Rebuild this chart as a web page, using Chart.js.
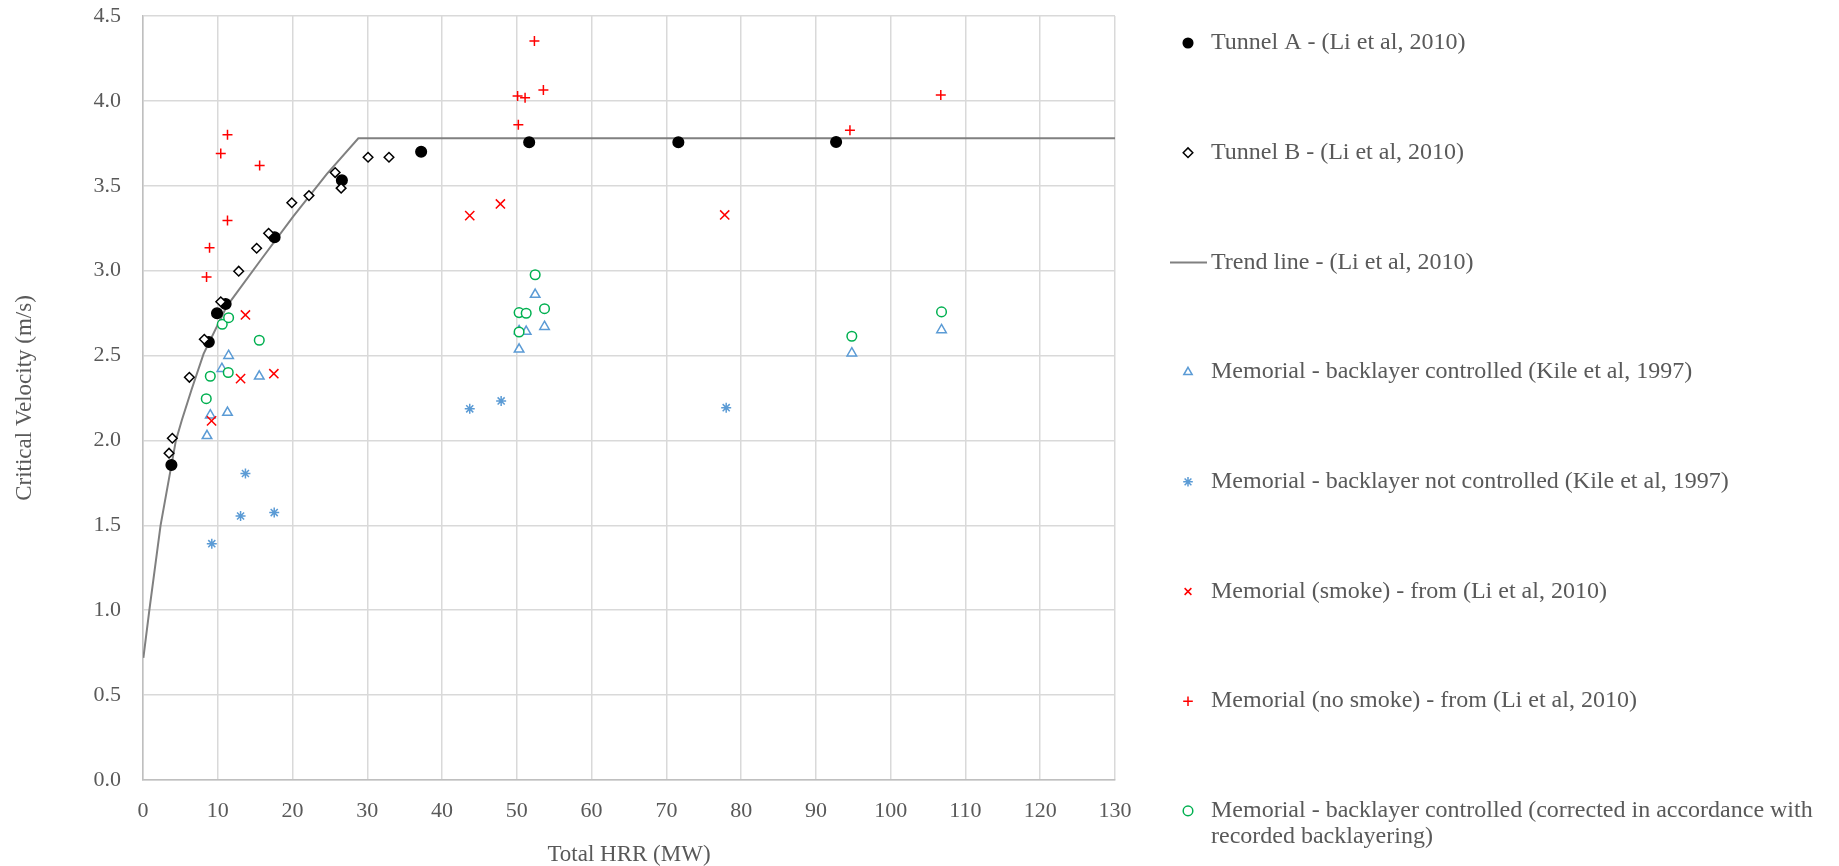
<!DOCTYPE html>
<html>
<head>
<meta charset="utf-8">
<title>Critical Velocity vs Total HRR</title>
<script src="https://cdn.jsdelivr.net/npm/chart.js@4.4.1/dist/chart.umd.min.js"></script>
<style>
  html, body { margin: 0; padding: 0; background: #fff; }
</style>
</head>
<body>
<canvas id="chart" width="1839" height="866"></canvas>
<script>
const FONT = '"Liberation Serif", "Times New Roman", serif';
const TEXT_COLOR = '#595959';

const seriesLabels = [
  'Tunnel A - (Li et al, 2010)',
  'Tunnel B - (Li et al, 2010)',
  'Trend line - (Li et al, 2010)',
  'Memorial - backlayer controlled (Kile et al, 1997)',
  'Memorial - backlayer not controlled (Kile et al, 1997)',
  'Memorial (smoke) - from (Li et al, 2010)',
  'Memorial (no smoke) - from (Li et al, 2010)',
  'Memorial - backlayer controlled (corrected in accordance with recorded backlayering)'
];

// Tunnel A
const tunnelAHrr = [3.8, 8.8, 9.9, 11.05, 17.6, 26.6, 37.2, 51.65, 71.6, 92.7];
const tunnelAVel = [1.855, 2.58, 2.749, 2.804, 3.197, 3.532, 3.70, 3.756, 3.756, 3.758];

// Tunnel B
const tunnelBHrr = [3.48, 3.92, 6.2, 8.2, 10.4, 12.8, 15.2, 16.8, 19.9, 22.2, 25.7, 26.5, 30.1, 32.9];
const tunnelBVel = [1.925, 2.013, 2.372, 2.596, 2.817, 2.997, 3.132, 3.22, 3.40, 3.442, 3.578, 3.486, 3.668, 3.668];

// Trend line
const trendHrr = [0.05, 0.85, 2.35, 4.4, 5.2, 6.5, 8.1, 11.2, 15.7, 20.1, 24.6, 28.8, 130];
const trendVel = [0.72, 1.0, 1.5, 2.0, 2.12, 2.3, 2.51, 2.79, 3.06, 3.32, 3.57, 3.78, 3.78];

// Memorial - backlayer controlled (Kile)
const ctrlHrr = [8.56, 9.0, 10.55, 11.3, 11.45, 15.55, 50.3, 50.3, 51.25, 52.45, 53.7, 94.8, 106.8];
const ctrlVel = [2.027, 2.149, 2.423, 2.164, 2.499, 2.378, 2.537, 2.645, 2.641, 2.859, 2.67, 2.514, 2.651];

// Memorial - backlayer not controlled (Kile)
const notCtrlHrr = [9.2, 13.05, 13.7, 17.55, 43.7, 47.9, 78.0];
const notCtrlVel = [1.392, 1.555, 1.805, 1.575, 2.186, 2.233, 2.193];

// Memorial (smoke)
const smokeHrr = [9.17, 13.05, 13.7, 17.5, 43.7, 47.8, 77.8];
const smokeVel = [2.115, 2.364, 2.739, 2.393, 3.324, 3.393, 3.328];

// Memorial (no smoke)
const noSmokeHrr = [8.5, 8.9, 10.4, 11.3, 11.3, 15.6, 50.2, 50.1, 51.1, 52.35, 53.55, 94.55, 106.7];
const noSmokeVel = [2.963, 3.135, 3.69, 3.80, 3.295, 3.62, 3.86, 4.029, 4.019, 4.353, 4.064, 3.827, 4.035];

// Memorial - backlayer controlled (corrected)
const correctedHrr = [8.46, 9.0, 10.6, 11.4, 11.45, 15.55, 50.3, 50.3, 51.25, 52.45, 53.7, 94.8, 106.8];
const correctedVel = [2.246, 2.378, 2.684, 2.40, 2.723, 2.59, 2.639, 2.753, 2.749, 2.976, 2.776, 2.614, 2.757];

const pts = (xs, ys) => xs.map((x, i) => ({ x: x, y: ys[i] }));

const marker = (label, data, style, radius, fill, stroke, order) => ({
  label: label,
  data: data,
  showLine: false,
  pointStyle: style,
  pointRadius: radius,
  pointHoverRadius: radius,
  pointBackgroundColor: fill,
  pointBorderColor: stroke,
  pointBorderWidth: 1.5,
  order: order
});

// right-hand legend, one item every ~110px like the original
const sideLegend = {
  id: 'sideLegend',
  afterDraw(chart) {
    const ctx = chart.ctx;
    const markX = 1188, textX = 1211, top = 43, step = 109.7, maxW = 625;
    ctx.save();
    ctx.font = '24px ' + FONT;
    ctx.textBaseline = 'middle';
    chart.data.datasets.forEach((ds, i) => {
      const y = top + i * step;
      if (ds.showLine) {
        ctx.strokeStyle = ds.borderColor;
        ctx.lineWidth = ds.borderWidth;
        ctx.beginPath();
        ctx.moveTo(1170, y);
        ctx.lineTo(1207, y);
        ctx.stroke();
      } else {
        ctx.fillStyle = ds.pointBackgroundColor;
        ctx.strokeStyle = ds.pointBorderColor;
        ctx.lineWidth = ds.pointBorderWidth;
        Chart.helpers.drawPoint(ctx, {
          pointStyle: ds.pointStyle,
          radius: Math.min(ds.pointRadius, 4.8),
          rotation: 0,
          borderWidth: ds.pointBorderWidth
        }, markX, y);
      }
      // wrap long labels
      const words = ds.label.split(' ');
      const lines = [];
      let line = '';
      words.forEach(w => {
        const test = line ? line + ' ' + w : w;
        if (ctx.measureText(test).width > maxW && line) {
          lines.push(line);
          line = w;
        } else {
          line = test;
        }
      });
      lines.push(line);
      ctx.fillStyle = TEXT_COLOR;
      lines.forEach((l, k) => ctx.fillText(l, textX, y + k * 26));
    });
    ctx.restore();
  }
};

new Chart(document.getElementById('chart'), {
  type: 'scatter',
  data: {
    datasets: [
      marker(seriesLabels[0], pts(tunnelAHrr, tunnelAVel), 'circle', 5.3, '#000000', '#000000', 8),
      marker(seriesLabels[1], pts(tunnelBHrr, tunnelBVel), 'rectRot', 4.8, '#ffffff', '#000000', 7),
      {
        label: seriesLabels[2],
        data: pts(trendHrr, trendVel),
        showLine: true,
        borderColor: '#808080',
        borderWidth: 2,
        pointRadius: 0,
        tension: 0,
        order: 9
      },
      marker(seriesLabels[3], pts(ctrlHrr, ctrlVel), 'triangle', 5.5, '#ffffff', '#5b9bd5', 5),
      marker(seriesLabels[4], pts(notCtrlHrr, notCtrlVel), 'star', 5, '#5b9bd5', '#5b9bd5', 4),
      marker(seriesLabels[5], pts(smokeHrr, smokeVel), 'crossRot', 6.5, '#ff0000', '#ff0000', 3),
      marker(seriesLabels[6], pts(noSmokeHrr, noSmokeVel), 'cross', 5, '#ff0000', '#ff0000', 2),
      marker(seriesLabels[7], pts(correctedHrr, correctedVel), 'circle', 4.8, '#ffffff', '#00b050', 1)
    ]
  },
  options: {
    responsive: false,
    animation: false,
    layout: { padding: { left: 0, right: 724, top: 16, bottom: 0 } },
    plugins: {
      legend: { display: false },
      tooltip: { enabled: false }
    },
    scales: {
      x: {
        type: 'linear',
        min: 0,
        max: 130,
        ticks: {
          stepSize: 10,
          color: TEXT_COLOR,
          font: { family: FONT, size: 22 },
          padding: 18
        },
        grid: { color: '#d9d9d9', lineWidth: 1.5, drawTicks: false },
        border: { color: '#bfbfbf', width: 1.5 },
        title: {
          display: true,
          text: 'Total HRR (MW)',
          color: TEXT_COLOR,
          font: { family: FONT, size: 23, lineHeight: 1 },
          padding: { top: 0, bottom: 0 }
        },
        afterFit(scale) { scale.height = 86; }
      },
      y: {
        type: 'linear',
        min: 0,
        max: 4.5,
        ticks: {
          stepSize: 0.5,
          color: TEXT_COLOR,
          font: { family: FONT, size: 22 },
          padding: 22,
          callback: v => v.toFixed(1)
        },
        grid: { color: '#d9d9d9', lineWidth: 1.5, drawTicks: false },
        border: { color: '#bfbfbf', width: 1.5 },
        title: {
          display: true,
          text: 'Critical Velocity (m/s)',
          color: TEXT_COLOR,
          font: { family: FONT, size: 23, lineHeight: 1 },
          padding: { top: 13, bottom: 0 }
        },
        afterFit(scale) {
          scale.width = 143;
          scale.paddingTop = 0;
          scale.paddingBottom = 0;
        }
      }
    }
  },
  plugins: [sideLegend]
});
</script>
</body>
</html>
